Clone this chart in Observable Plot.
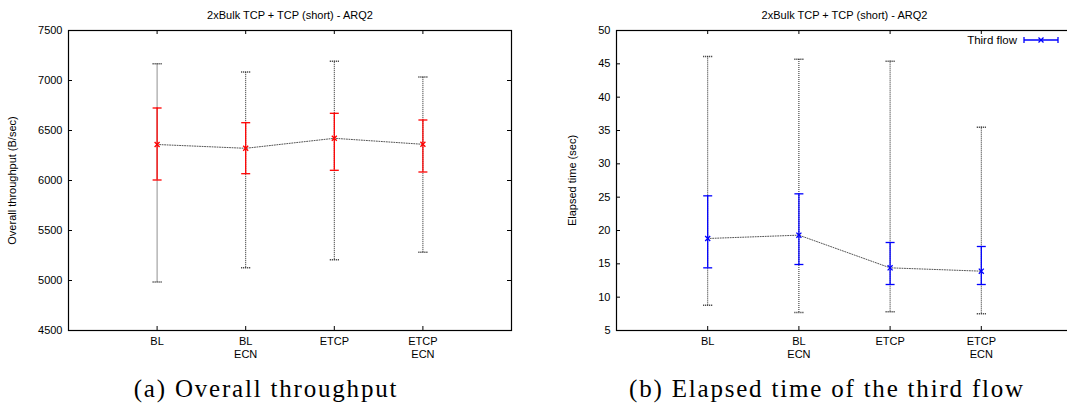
<!DOCTYPE html>
<html>
<head>
<meta charset="utf-8">
<script src="https://cdn.jsdelivr.net/npm/d3@7"></script>
<script src="https://cdn.jsdelivr.net/npm/@observablehq/plot@0.6"></script>
<style>
  html, body { margin: 0; padding: 0; background: #fff; }
  #wrap { position: relative; width: 1067px; height: 407px; overflow: hidden; background: #fff; }
  .panel { position: absolute; top: 0; }
  .panel svg { max-width: none !important; }
  #overlay { position: absolute; left: 0; top: 0; }
</style>
</head>
<body>
<div id="wrap">
  <div id="left" class="panel" style="left:0px; width:520px"></div>
  <div id="right" class="panel" style="left:540px; width:540px"></div>
  <svg id="overlay" width="1067" height="407"></svg>
</div>
<script>
// ---- Data ----
const categories = ["BL", "BL\nECN", "ETCP", "ETCP\nECN"];
const chartTitle = "2xBulk TCP + TCP (short) - ARQ2";

// (a) Overall throughput (B/sec)
const throughputMean = [6360, 6322, 6422, 6362];
const throughputLow  = [6005, 6068, 6102, 6085];
const throughputHigh = [6725, 6578, 6672, 6605];
const throughputMin  = [4985, 5128, 5208, 5282];
const throughputMax  = [7168, 7085, 7192, 7035];
const throughputTicks = [4500, 5000, 5500, 6000, 6500, 7000, 7500];

// (b) Elapsed time of the third flow (sec)
const elapsedMean = [18.8, 19.3, 14.4, 13.9];
const elapsedLow  = [14.4, 14.9, 11.9, 11.9];
const elapsedHigh = [25.2, 25.5, 18.2, 17.6];
const elapsedMin  = [8.8, 7.7, 7.8, 7.5];
const elapsedMax  = [46.1, 45.7, 45.4, 35.5];
const elapsedTicks = [5, 10, 15, 20, 25, 30, 35, 40, 45, 50];

const captionA = "(a) Overall throughput";
const captionB = "(b) Elapsed time of the third flow";
const legendLabel = "Third flow";

// ---- Helpers ----
const capSymbol = {
  draw(context, size) {
    const r = Math.sqrt(size / Math.PI);
    context.moveTo(-r, 0);
    context.lineTo(r, 0);
  }
};

function makeChart(o) {
  const rows = categories.map((c, i) => ({
    x: i + 1, mean: o.mean[i], low: o.low[i], high: o.high[i], min: o.min[i], max: o.max[i]
  }));
  const xTicks = categories.map((c, i) => i + 1);
  const innerW = o.width - o.marginLeft - o.marginRight;
  const innerH = o.height - o.marginTop - o.marginBottom;
  const tl = 4;
  return Plot.plot({
    width: o.width,
    height: o.height,
    marginLeft: o.marginLeft,
    marginRight: o.marginRight,
    marginTop: o.marginTop,
    marginBottom: o.marginBottom,
    style: { fontFamily: "'Liberation Sans', Arial, sans-serif", fontSize: "11px", color: "#000", background: "#fff", maxWidth: "none" },
    x: { domain: [0, categories.length + 1] },
    y: { domain: o.yDomain },
    marks: [
      Plot.frame({ stroke: "#000", strokeWidth: 1.2 }),
      // inward tick marks, mirrored on all sides
      Plot.tickY(o.yTicks, { y: d => d, insetRight: innerW - tl, stroke: "#000" }),
      Plot.tickY(o.yTicks, { y: d => d, insetLeft: innerW - tl, stroke: "#000" }),
      Plot.tickX(xTicks, { x: d => d, insetTop: innerH - tl, stroke: "#000" }),
      Plot.tickX(xTicks, { x: d => d, insetBottom: innerH - tl, stroke: "#000" }),
      Plot.axisY({ ticks: o.yTicks, tickSize: 0, tickPadding: 6, tickFormat: d => String(d), label: o.ylabel,
                   labelAnchor: "center", labelArrow: "none", labelOffset: o.labelOffset }),
      Plot.axisX({ ticks: xTicks, tickSize: 0, tickPadding: 6, label: null,
                   tickFormat: d => categories[d - 1], lineHeight: 1.15 }),
      // min/max range (dotted)
      Plot.ruleX(rows, { x: "x", y1: "min", y2: "max", stroke: "#222", strokeDasharray: "1,1" }),
      Plot.dot(rows, { x: "x", y: "min", symbol: capSymbol, r: 4.5, stroke: "#222", fill: "none", strokeDasharray: "1,1" }),
      Plot.dot(rows, { x: "x", y: "max", symbol: capSymbol, r: 4.5, stroke: "#222", fill: "none", strokeDasharray: "1,1" }),
      // mean connecting line (dotted)
      Plot.line(rows, { x: "x", y: "mean", stroke: "#555", strokeWidth: 1, strokeDasharray: "1,1.5" }),
      // coloured error bars
      Plot.ruleX(rows, { x: "x", y1: "low", y2: "high", stroke: o.color, strokeWidth: 1.3 }),
      Plot.dot(rows, { x: "x", y: "low", symbol: capSymbol, r: 4.5, stroke: o.color, fill: "none", strokeWidth: 1.3 }),
      Plot.dot(rows, { x: "x", y: "high", symbol: capSymbol, r: 4.5, stroke: o.color, fill: "none", strokeWidth: 1.3 }),
      Plot.dot(rows, { x: "x", y: "mean", symbol: "times", r: 2.4, stroke: o.color, strokeWidth: 1.3 }),
      // title
      Plot.text([chartTitle], { text: d => d, frameAnchor: "top", lineAnchor: "bottom", dy: -12, fill: "#000" })
    ]
  });
}

document.getElementById("left").appendChild(makeChart({
  mean: throughputMean, low: throughputLow, high: throughputHigh, min: throughputMin, max: throughputMax,
  yDomain: [4500, 7500], yTicks: throughputTicks, ylabel: "Overall throughput (B/sec)",
  color: "#ff0000", width: 520, height: 380, marginLeft: 68, marginRight: 9, marginTop: 30, marginBottom: 50,
  labelOffset: 60
}));

document.getElementById("right").appendChild(makeChart({
  mean: elapsedMean, low: elapsedLow, high: elapsedHigh, min: elapsedMin, max: elapsedMax,
  yDomain: [5, 50], yTicks: elapsedTicks, ylabel: "Elapsed time (sec)",
  color: "#0000ff", width: 540, height: 380, marginLeft: 76, marginRight: 8, marginTop: 30, marginBottom: 50,
  labelOffset: 48
}));

// ---- Overlay: legend and captions ----
const ov = d3.select("#overlay");
const lg = ov.append("g");
lg.append("text").attr("x", 1017).attr("y", 44).attr("text-anchor", "end")
  .attr("font-family", "'Liberation Sans', Arial, sans-serif").attr("font-size", 11.5).text(legendLabel);
lg.append("line").attr("x1", 1024).attr("x2", 1058).attr("y1", 40).attr("y2", 40).attr("stroke", "#0000ff").attr("stroke-width", 1.3);
lg.append("line").attr("x1", 1024).attr("x2", 1024).attr("y1", 37).attr("y2", 43).attr("stroke", "#0000ff").attr("stroke-width", 1.3);
lg.append("line").attr("x1", 1058).attr("x2", 1058).attr("y1", 37).attr("y2", 43).attr("stroke", "#0000ff").attr("stroke-width", 1.3);
lg.append("path").attr("d", d3.symbol(d3.symbolTimes, 2.4 * 2.4 * Math.PI)()).attr("transform", "translate(1041,40)")
  .attr("stroke", "#0000ff").attr("stroke-width", 1.3).attr("fill", "none");

const capStyle = sel => sel.attr("font-family", "'Liberation Serif', 'Times New Roman', serif")
  .attr("font-size", 25).attr("letter-spacing", 1.8).attr("text-anchor", "middle").attr("fill", "#000");
ov.append("text").attr("x", 266).attr("y", 397).call(capStyle).text(captionA);
ov.append("text").attr("x", 827).attr("y", 397).call(capStyle).text(captionB);
</script>
</body>
</html>
